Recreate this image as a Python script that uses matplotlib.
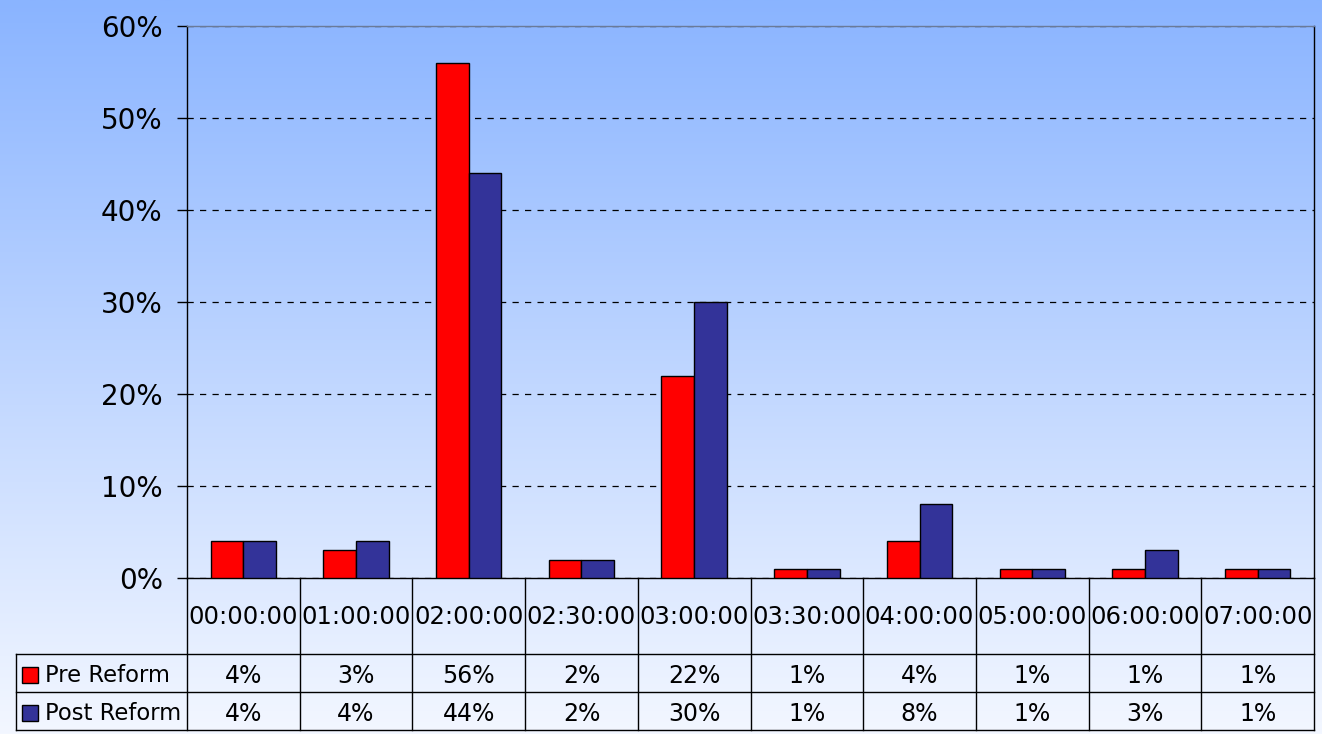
import numpy as np
import matplotlib
matplotlib.use("Agg")
import matplotlib.pyplot as plt
from matplotlib.lines import Line2D
from matplotlib.patches import Rectangle
from matplotlib.transforms import blended_transform_factory

# Data
categories = ["00:00:00", "01:00:00", "02:00:00", "02:30:00", "03:00:00",
              "03:30:00", "04:00:00", "05:00:00", "06:00:00", "07:00:00"]
pre_reform = [4, 3, 56, 2, 22, 1, 4, 1, 1, 1]
post_reform = [4, 4, 44, 2, 30, 1, 8, 1, 3, 1]
series_names = ["Pre Reform", "Post Reform"]
series_colors = ["#FF0000", "#333399"]
y_ticks = [0, 10, 20, 30, 40, 50, 60]

plt.rcParams["font.family"] = ["DejaVu Sans"]

W, H = 1322, 734
fig = plt.figure(figsize=(W / 100, H / 100), dpi=100)

# Vertical gradient background
bg = fig.add_axes([0, 0, 1, 1], zorder=-10)
top = np.array([138, 180, 255]) / 255.0
bot = np.array([243, 247, 255]) / 255.0
t = np.linspace(0, 1, 256)[:, None]
grad = top[None, :] * (1 - t) + bot[None, :] * t
bg.imshow(grad[:, None, :], aspect="auto", extent=[0, 1, 0, 1])
bg.set_axis_off()

# Plot area geometry (pixels)
x0, x1 = 187, 1314
y_top, y_zero = 26, 578
ax = fig.add_axes([x0 / W, 1 - y_zero / H, (x1 - x0) / W, (y_zero - y_top) / H])
ax.set_facecolor("none")

n = len(categories)
x = np.arange(n)
bw = 0.29
ax.bar(x - bw / 2, pre_reform, bw, color=series_colors[0], edgecolor="black",
       linewidth=1, zorder=3)
ax.bar(x + bw / 2, post_reform, bw, color=series_colors[1], edgecolor="black",
       linewidth=1, zorder=3)

ax.set_xlim(-0.5, n - 0.5)
ax.set_ylim(0, 60)
ax.set_yticks(y_ticks)
ax.set_yticklabels([f"{v}%" for v in y_ticks], fontsize=20)
ax.tick_params(axis="y", direction="out", length=7.5, width=1, pad=10)
ax.set_xticks([])
ax.yaxis.grid(True, color="black", linestyle=(0, (5, 5)), linewidth=0.9)
ax.set_axisbelow(True)
for s in ["left", "right", "bottom"]:
    ax.spines[s].set_color("black")
    ax.spines[s].set_linewidth(1)
ax.spines["top"].set_color("#6a7a99")
ax.spines["top"].set_linewidth(1)

# Data table underneath the plot
tr = blended_transform_factory(ax.transData, fig.transFigure)
def fy(py):
    return 1 - py / H

def dx(px):
    return ax.transData.inverted().transform((px, 0))[0]

row_hdr_bot = 654
row1_bot = 692
row2_bot = 730
left_data = dx(16)

lkw = dict(color="black", linewidth=1, transform=tr, clip_on=False)
# vertical lines at category boundaries
for k in range(n + 1):
    xb = k - 0.5
    ax.add_line(Line2D([xb, xb], [fy(y_zero), fy(row2_bot)], **lkw))
# left label column
ax.add_line(Line2D([left_data, left_data], [fy(row_hdr_bot), fy(row2_bot)], **lkw))
# horizontal lines
for yy in [row_hdr_bot, row1_bot, row2_bot]:
    ax.add_line(Line2D([left_data, n - 0.5], [fy(yy), fy(yy)], **lkw))

# header labels
for k, c in enumerate(categories):
    ax.text(k, fy((y_zero + row_hdr_bot) / 2 + 1), c, transform=tr, ha="center",
            va="center", fontsize=17.5)

rows = [pre_reform, post_reform]
row_bounds = [(row_hdr_bot, row1_bot), (row1_bot, row2_bot)]
sq_w = dx(22 + 16) - dx(22)
for (ya, yb), vals, name, col in zip(row_bounds, rows, series_names, series_colors):
    ym = (ya + yb) / 2 + 3
    yc = fy(ym)
    for k, v in enumerate(vals):
        ax.text(k, yc, f"{v}%", transform=tr, ha="center", va="center",
                fontsize=17)
    ax.add_patch(Rectangle((dx(22), fy(ym + 7)), sq_w, 16 / H,
                           transform=tr, facecolor=col, edgecolor="black",
                           linewidth=1, clip_on=False))
    ax.text(dx(45), yc, name, transform=tr, ha="left", va="center",
            fontsize=16.3)

fig.savefig("out.png", dpi=100)
